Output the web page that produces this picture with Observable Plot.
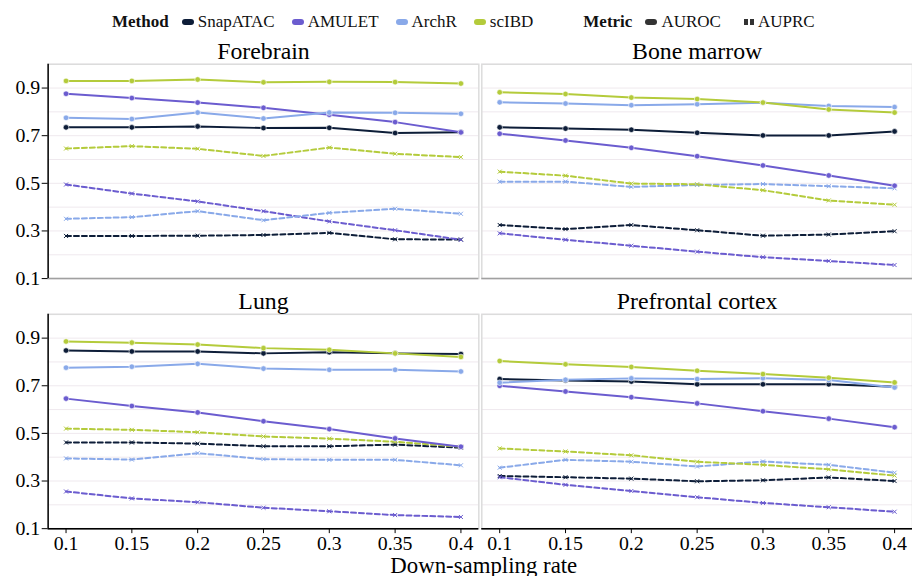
<!DOCTYPE html>
<html><head><meta charset="utf-8">
<script src="https://cdn.jsdelivr.net/npm/d3@7"></script>
<script src="https://cdn.jsdelivr.net/npm/@observablehq/plot@0.6"></script>
<style>
html,body{margin:0;padding:0;background:#fff;overflow:hidden;width:912px;height:576px}
#legend{position:relative;height:30px;font-family:"Liberation Serif",serif;font-size:17px;color:#111}
#legend .row{position:absolute;left:112px;top:12px;display:flex;align-items:center;white-space:nowrap;line-height:20px}
.sw{display:inline-block;width:12px;height:6px;border-radius:3px;margin-right:4px}
.item{display:flex;align-items:center;margin-right:17px}
.ttl{font-weight:bold;margin-right:13px}
.gap{width:33px}
svg text{font-family:"Liberation Serif",serif}
</style></head><body>
<div id="legend"><div class="row"></div></div>
<div id="chart"></div>
<script>
const rates = [0.1, 0.15, 0.2, 0.25, 0.3, 0.35, 0.4];
const datasets = ["Forebrain", "Bone marrow", "Lung", "Prefrontal cortex"];
const methods = ["SnapATAC", "AMULET", "ArchR", "scIBD"];
const metrics = ["AUROC", "AUPRC"];
const colors = ["#0d1d38", "#6b5ccf", "#89a9e9", "#b4cb3b"];
const yTicks = [0.1, 0.3, 0.5, 0.7, 0.9];
const gridTicks = [0.1, 0.2, 0.3, 0.4, 0.5, 0.6, 0.7, 0.8, 0.9, 1.0];

// values in method order: SnapATAC, AMULET, ArchR, scIBD
const forebrainAUROC = [
  [0.735, 0.735, 0.739, 0.732, 0.733, 0.711, 0.714],
  [0.876, 0.858, 0.839, 0.817, 0.788, 0.757, 0.714],
  [0.775, 0.770, 0.797, 0.772, 0.797, 0.796, 0.792],
  [0.930, 0.930, 0.936, 0.924, 0.926, 0.925, 0.919]
];
const forebrainAUPRC = [
  [0.279, 0.279, 0.280, 0.283, 0.292, 0.265, 0.264],
  [0.495, 0.457, 0.424, 0.383, 0.340, 0.303, 0.263],
  [0.351, 0.358, 0.383, 0.345, 0.376, 0.393, 0.372],
  [0.646, 0.656, 0.645, 0.615, 0.650, 0.624, 0.610]
];
const boneMarrowAUROC = [
  [0.735, 0.730, 0.725, 0.712, 0.701, 0.701, 0.718],
  [0.708, 0.680, 0.649, 0.614, 0.575, 0.533, 0.490],
  [0.840, 0.835, 0.828, 0.832, 0.838, 0.825, 0.820],
  [0.882, 0.875, 0.860, 0.854, 0.839, 0.810, 0.797]
];
const boneMarrowAUPRC = [
  [0.325, 0.308, 0.325, 0.303, 0.280, 0.285, 0.299],
  [0.290, 0.263, 0.238, 0.213, 0.190, 0.174, 0.157],
  [0.507, 0.507, 0.485, 0.493, 0.497, 0.488, 0.479],
  [0.549, 0.532, 0.499, 0.496, 0.471, 0.428, 0.410]
];
const lungAUROC = [
  [0.848, 0.844, 0.844, 0.836, 0.841, 0.836, 0.833],
  [0.646, 0.615, 0.588, 0.551, 0.518, 0.479, 0.444],
  [0.776, 0.780, 0.792, 0.772, 0.767, 0.767, 0.760],
  [0.886, 0.881, 0.873, 0.858, 0.851, 0.836, 0.821]
];
const lungAUPRC = [
  [0.462, 0.462, 0.457, 0.446, 0.446, 0.453, 0.440],
  [0.256, 0.227, 0.211, 0.188, 0.173, 0.157, 0.149],
  [0.395, 0.390, 0.417, 0.392, 0.389, 0.389, 0.366],
  [0.520, 0.515, 0.505, 0.487, 0.478, 0.465, 0.444]
];
const prefrontalAUROC = [
  [0.728, 0.722, 0.718, 0.706, 0.706, 0.706, 0.696],
  [0.700, 0.676, 0.652, 0.626, 0.593, 0.562, 0.526],
  [0.713, 0.725, 0.731, 0.728, 0.732, 0.724, 0.693],
  [0.804, 0.790, 0.779, 0.763, 0.749, 0.734, 0.714]
];
const prefrontalAUPRC = [
  [0.321, 0.316, 0.310, 0.299, 0.303, 0.315, 0.300],
  [0.316, 0.284, 0.258, 0.232, 0.208, 0.190, 0.171],
  [0.356, 0.389, 0.381, 0.361, 0.382, 0.368, 0.335],
  [0.437, 0.424, 0.408, 0.381, 0.368, 0.349, 0.323]
];

const tables = [
  [forebrainAUROC, forebrainAUPRC],
  [boneMarrowAUROC, boneMarrowAUPRC],
  [lungAUROC, lungAUPRC],
  [prefrontalAUROC, prefrontalAUPRC]
];

const rows = [];
datasets.forEach((ds, di) => {
  metrics.forEach((mt, mi) => {
    methods.forEach((m, k) => {
      tables[di][mi][k].forEach((v, j) => {
        rows.push({dataset: ds, col: di % 2, row: Math.floor(di / 2), metric: mt, method: m, rate: rates[j], value: v});
      });
    });
  });
});
const auroc = rows.filter(d => d.metric === "AUROC");
const auprc = rows.filter(d => d.metric === "AUPRC");
const titles = datasets.map((ds, di) => ({dataset: ds, col: di % 2, row: Math.floor(di / 2)}));

// legend
const leg = document.querySelector("#legend .row");
let html = `<span class="ttl">Method</span>`;
methods.forEach((m, i) => {
  html += `<span class="item"><span class="sw" style="background:${colors[i]}"></span>${m}</span>`;
});
html += `<span class="gap"></span><span class="ttl">Metric</span>`;
html += `<span class="item"><span class="sw" style="background:#333"></span>AUROC</span>`;
html += `<span class="item" style="margin-left:6px"><svg width="10" height="6" style="margin-right:4px"><rect x="0" y="0" width="4" height="6" fill="#333"/><rect x="6" y="0" width="4" height="6" fill="#333"/></svg>AUPRC</span>`;
leg.innerHTML = html;

const xDomain = [0.0864, 0.4136];
const serif = "'Liberation Serif', serif";

const plot = Plot.plot({
  width: 919,
  height: 546,
  marginTop: 34,
  marginBottom: 44,
  marginLeft: 48,
  marginRight: 0,
  style: {fontFamily: serif, background: "white", color: "black", overflow: "visible"},
  x: {domain: xDomain},
  y: {domain: [0.1, 1.0]},
  fx: {axis: null, domain: [0, 1], paddingInner: 0.007, paddingOuter: 0},
  fy: {axis: null, domain: [0, 1], paddingInner: 0.143, paddingOuter: 0},
  color: {domain: methods, range: colors},
  marks: [
    Plot.gridY(gridTicks, {stroke: "#efe9ee", strokeOpacity: 1}),
    Plot.frame({stroke: "#dcdcdc", strokeWidth: 1.5}),
    Plot.ruleY([0.1], {stroke: "#a0a0a0", strokeWidth: 1.5}),
    Plot.ruleY([0.1], {stroke: "black", strokeWidth: 1.5, facetAnchor: "bottom"}),
    Plot.ruleX([xDomain[0]], {stroke: "black", strokeWidth: 1.5, facetAnchor: "left"}),
    Plot.axisY({ticks: yTicks, tickSize: 6, tickPadding: 2, fontSize: 20, fontFamily: serif, label: null, tickFormat: d3.format(".1f")}),
    Plot.axisX({ticks: rates, tickSize: 5, tickPadding: 2, fontSize: 20, fontFamily: serif, label: null, tickFormat: d => `${d}`}),
    Plot.line(auprc, {x: "rate", y: "value", z: "method", stroke: "method", strokeWidth: 2, strokeDasharray: "5,3", fx: "col", fy: "row"}),
    Plot.dot(auprc, {x: "rate", y: "value", stroke: "method", symbol: "times", r: 2, strokeWidth: 1, fx: "col", fy: "row"}),
    Plot.line(auroc, {x: "rate", y: "value", z: "method", stroke: "method", strokeWidth: 2, fx: "col", fy: "row"}),
    Plot.dot(auroc, {x: "rate", y: "value", fill: "method", stroke: "white", strokeWidth: 0.6, r: 2.8, fx: "col", fy: "row"}),
    Plot.text(titles, {text: "dataset", fx: "col", fy: "row", frameAnchor: "top", lineAnchor: "bottom", dy: -5, fontSize: 24, fontFamily: serif, fill: "black"})
  ]
});

const fxr = plot.scale("fx").range;
d3.select(plot).append("text")
  .attr("x", (fxr[0] + fxr[1]) / 2 + 4)
  .attr("y", 546 + 1)
  .attr("text-anchor", "middle")
  .attr("font-size", 23)
  .attr("font-family", serif)
  .attr("fill", "black")
  .text("Down-sampling rate");

document.getElementById("chart").append(plot);
</script></body></html>
